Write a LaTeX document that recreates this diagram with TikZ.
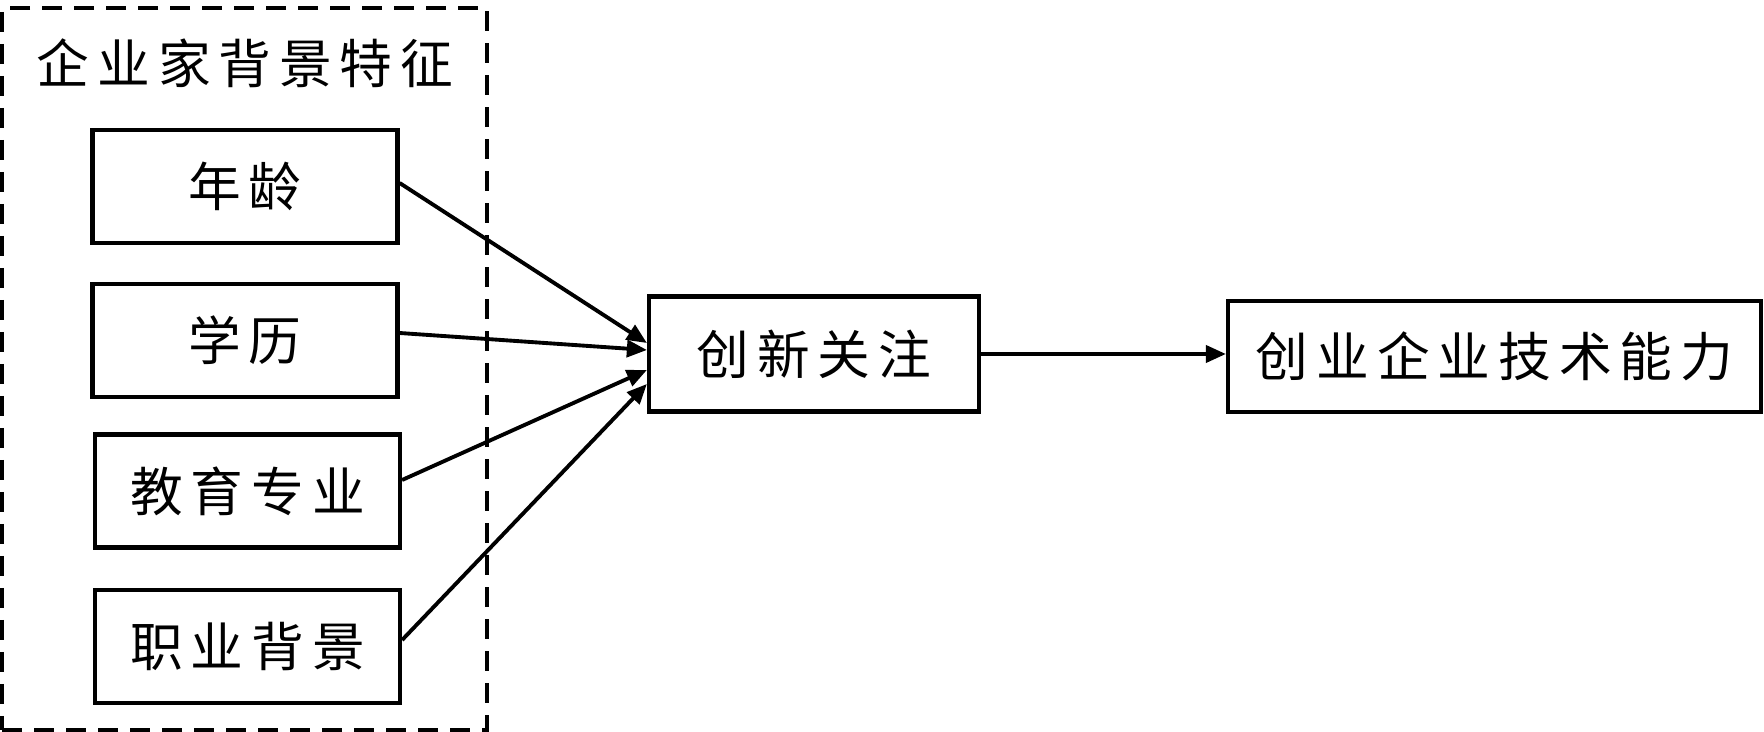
\documentclass[tikz,border=0pt]{standalone}
\usepackage{fontspec}
\setmainfont{Noto Sans CJK SC}[LetterSpace=15]
\usetikzlibrary{arrows.meta}

\begin{document}
\begin{tikzpicture}[
    font=\fontsize{30}{32}\selectfont,
    group/.style={rectangle,draw,line width=2.2pt,dash pattern=on 0.4cm off 0.24cm,inner sep=0pt},
    factor/.style={rectangle,draw,line width=2.4pt,minimum width=6.1cm,minimum height=2.26cm,inner sep=0pt},
    result/.style={rectangle,draw,line width=2.4pt,minimum height=2.3cm,inner sep=0pt},
    line/.style={line width=2.2pt,-{Triangle[length=0.4cm,width=0.34cm]}}
]
\useasboundingbox (0,0) rectangle (35.28,14.64);

% Background group
\node[group,minimum width=9.7cm,minimum height=14.44cm] (B) at (4.89,7.26) {};
\node (G) at (4.9,13.38) {企业家背景特征};

% Factors
\node[factor] (A) at (4.9,10.91) {年龄};
\node[factor] (E) at (4.9,7.83) {学历};
\node[factor] (M) at (4.95,4.82) {教育专业};
\node[factor] (P) at (4.95,1.71) {职业背景};

% Mediator and outcome
\node[result,minimum width=6.6cm] (I) at (16.28,7.56) {创新关注};
\node[result,minimum width=10.66cm,minimum height=2.22cm] (T) at (29.89,7.51) {创业企业技术能力};

\draw[line] ([yshift=0.07cm]A.east) -- ([yshift=0.22cm]I.west);
\draw[line] ([yshift=0.15cm]E.east) -- ([yshift=0.08cm]I.west);
\draw[line] ([yshift=0.22cm]M.east) -- ([yshift=-0.32cm]I.west);
\draw[line] ([yshift=0.13cm]P.east) -- ([yshift=-0.6cm]I.west);
\draw[line] (I.east) -- (I.east -| T.west);

\end{tikzpicture}
\end{document}
